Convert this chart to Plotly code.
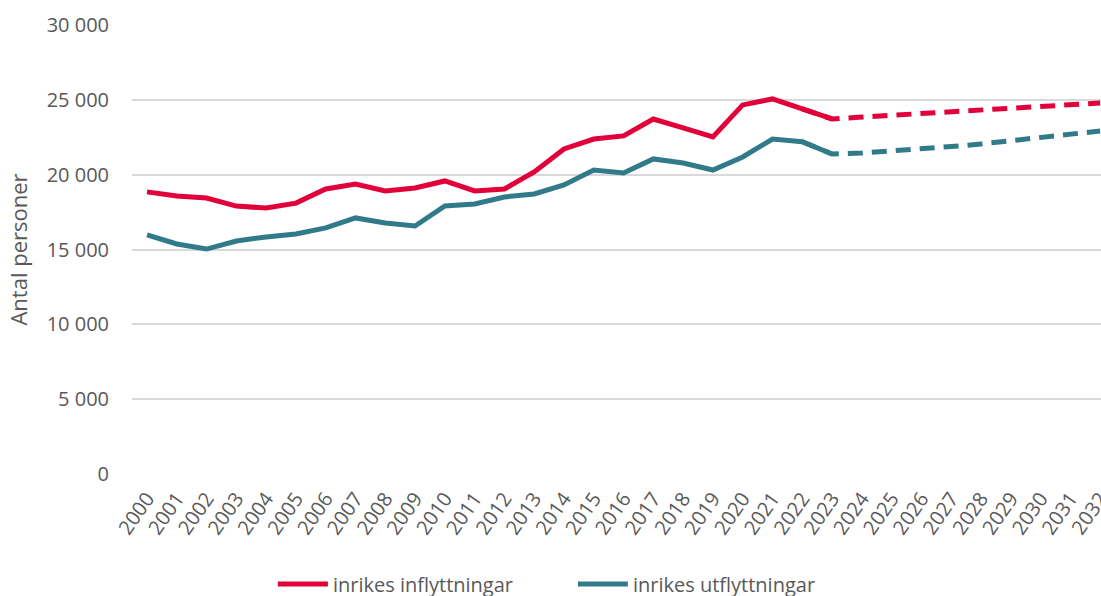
import plotly.graph_objects as go

years_hist = list(range(2000, 2024))
years_proj = list(range(2022, 2033))

infl_hist = [18850, 18580, 18440, 17900, 17770, 18100, 19040, 19380, 18910, 19110,
             19580, 18910, 19040, 20180, 21720, 22380, 22590, 23720, 23120, 22520,
             24660, 25060, 24400, 23720]
utfl_hist = [15970, 15370, 15030, 15570, 15840, 16040, 16440, 17110, 16770, 16570,
             17910, 18040, 18510, 18710, 19310, 20310, 20110, 21050, 20780, 20310,
             21180, 22380, 22200, 21380]

infl_proj = [24400, 23720, 23850, 23960, 24070, 24190, 24310, 24430, 24550, 24670, 24790]
utfl_proj = [22200, 21380, 21450, 21570, 21720, 21880, 22050, 22250, 22460, 22680, 22920]

RED = "#E1003A"
TEAL = "#317A8A"
GREY = "#595959"
FONT = "Open Sans"

fig = go.Figure()
fig.add_trace(go.Scatter(x=years_hist, y=infl_hist, mode="lines", name="inrikes inflyttningar",
                         line=dict(color=RED, width=5)))
fig.add_trace(go.Scatter(x=years_hist, y=utfl_hist, mode="lines", name="inrikes utflyttningar",
                         line=dict(color=TEAL, width=5)))
fig.add_trace(go.Scatter(x=years_proj, y=infl_proj, mode="lines", showlegend=False,
                         line=dict(color=RED, width=5, dash="15px,9px")))
fig.add_trace(go.Scatter(x=years_proj, y=utfl_proj, mode="lines", showlegend=False,
                         line=dict(color=TEAL, width=5, dash="15px,9px")))

fig.update_layout(
    width=1101, height=596,
    margin=dict(l=132, r=0, t=25, b=122, autoexpand=False),
    paper_bgcolor="white", plot_bgcolor="white",
    font=dict(family=FONT, size=20, color=GREY),
    separators=", ",
    showlegend=True,
    legend=dict(orientation="h", x=0.455, xanchor="center", y=-0.245, yanchor="middle",
                font=dict(size=20, color=GREY), entrywidth=235, entrywidthmode="pixels",
                itemwidth=50, tracegroupgap=0),
)
fig.update_xaxes(range=[1999.496, 2032.03], tickmode="linear", tick0=2000, dtick=1,
                 tickangle=-55, showgrid=False, zeroline=False, showline=False,
                 automargin=False, ticklabelstandoff=8, ticklabeloverflow="allow",
                 tickfont=dict(size=20, color=GREY), ticks="")
fig.update_yaxes(range=[0, 30000], dtick=5000, tickformat=",d", showgrid=True,
                 gridcolor="#D9D9D9", gridwidth=1.5, zeroline=False, showline=False,
                 automargin=False, tickfont=dict(size=20, color=GREY), ticklabelstandoff=22,
                 title=dict(text="Antal personer", font=dict(size=22, color=GREY), standoff=12))

fig.write_html("out.html", config={"displayModeBar": False},
               post_script="document.body.style.margin='0';document.body.style.overflow='hidden';")
